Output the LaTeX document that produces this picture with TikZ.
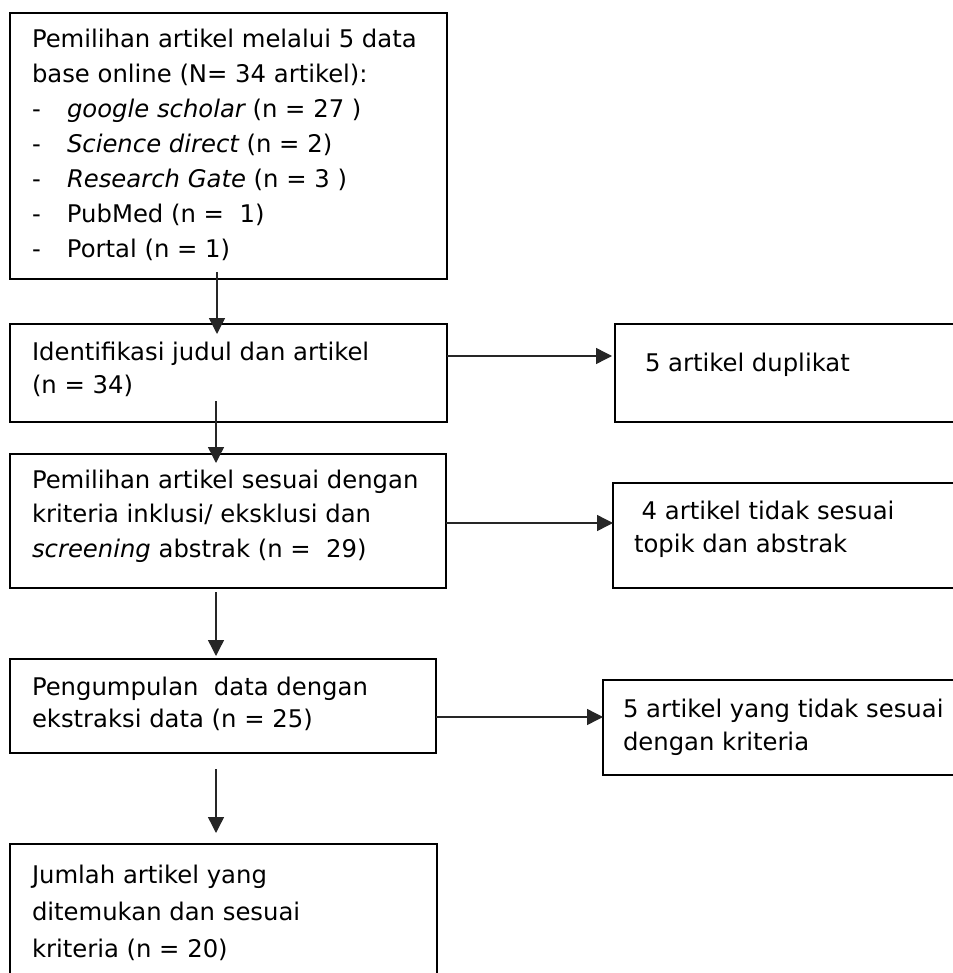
\documentclass[tikz,border=0pt]{standalone}
\usepackage{fontspec}
\setmainfont{DejaVu Sans}
\usetikzlibrary{arrows.meta}
\newcommand\mylines[2]{\vtop{\baselineskip=#1\lineskiplimit=-100pt\relax #2}}
\newcommand\itm[1]{\hbox{\hbox to 35pt{-\hfil}#1}}
\tikzset{
  box/.style={draw=black, line width=1.8pt, inner sep=0pt, outer sep=0pt, anchor=north west},
  txt/.style={inner sep=0pt, outer sep=0pt, anchor=base west, font=\fontsize{24.3}{35}\selectfont},
  arr/.style={draw=black!85, line width=1.4pt, -{Triangle[width=16pt,length=16pt]}}
}
\begin{document}
\begin{tikzpicture}[x=1pt,y=-1pt]
\useasboundingbox (0,0) rectangle (952,973);
% boxes
\node[box, minimum width=437pt, minimum height=266pt] (b1) at (10,13) {};
\node[box, minimum width=437pt, minimum height=98pt] (b2) at (10,324) {};
\node[box, minimum width=436pt, minimum height=134pt] (b3) at (10,454) {};
\node[box, minimum width=426pt, minimum height=94pt] (b4) at (10,659) {};
\node[box, minimum width=427pt, minimum height=170pt] (b5) at (10,844) {};
\node[box, minimum width=370pt, minimum height=98pt] (rA) at (615,324) {};
\node[box, minimum width=370pt, minimum height=105pt] (rB) at (613,483) {};
\node[box, minimum width=370pt, minimum height=95pt] (rC) at (603,680) {};
% texts
\node[txt] (t1) at (32,48) {\mylines{35pt}{%
  \hbox{Pemilihan artikel melalui 5 data}
  \hbox{base online (N= 34 artikel):}
  \itm{\itshape google scholar\upshape\ (n = 27 )}
  \itm{\itshape Science direct\upshape\ (n = 2)}
  \itm{\itshape Research Gate\upshape\ (n = 3 )}
  \itm{PubMed (n = \ 1)}
  \itm{Portal (n = 1)}}};
\node[txt] (t2) at (32,360) {\mylines{33pt}{%
  \hbox{Identifikasi judul dan artikel}
  \hbox{(n = 34)}}};
\node[txt] (t3) at (32,488) {\mylines{34.5pt}{%
  \hbox{Pemilihan artikel sesuai dengan}
  \hbox{kriteria inklusi/ eksklusi dan}
  \hbox{\itshape screening\upshape\ abstrak (n = \ 29)}}};
\node[txt] (t4) at (32,695) {\mylines{32pt}{%
  \hbox{Pengumpulan \ data dengan}
  \hbox{ekstraksi data (n = 25)}}};
\node[txt] (t5) at (32,883) {\mylines{37pt}{%
  \hbox{Jumlah artikel yang}
  \hbox{ditemukan dan sesuai}
  \hbox{kriteria (n = 20)}}};
\node[txt] (tA) at (645,371) {5 artikel duplikat};
\node[txt] (tB) at (634,519) {\mylines{33pt}{%
  \hbox{\ 4 artikel tidak sesuai}
  \hbox{topik dan abstrak}}};
\node[txt] (tC) at (623,717) {\mylines{33pt}{%
  \hbox{5 artikel yang tidak sesuai}
  \hbox{dengan kriteria}}};
% connectors
\coordinate (x1) at (217,0);
\coordinate (x2) at (216,0);
\draw[arr, shorten >=-10pt] ([yshift=7pt]b1.south -| x1) -- (b2.north -| x1);
\draw[arr, shorten >=-9pt] ([yshift=21pt]b2.south -| x2) -- (b3.north -| x2);
\draw[arr, shorten >=3pt] ([yshift=-4pt]b3.south -| x2) -- (b4.north -| x2);
\draw[arr, shorten >=11pt] ([yshift=-16pt]b4.south -| x2) -- (b5.north -| x2);
\draw[arr, shorten >=3pt] ([yshift=17pt]b2.east) -- ([yshift=17pt]b2.east -| rA.west);
\draw[arr] ([yshift=-2pt]b3.east) -- ([yshift=-2pt]b3.east -| rB.west);
\draw[arr] ([yshift=-11pt]b4.east) -- ([yshift=-11pt]b4.east -| rC.west);
\end{tikzpicture}
\end{document}
